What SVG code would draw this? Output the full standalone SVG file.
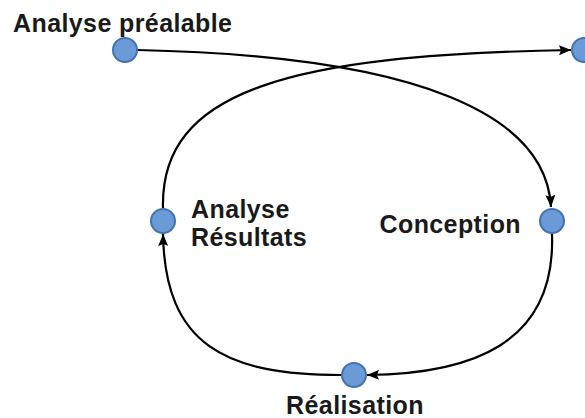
<svg xmlns="http://www.w3.org/2000/svg" width="585" height="418" viewBox="0 0 585 418">
<style>
.n{fill:#6b9bd6;stroke:#4472b0;stroke-width:2}
.t{font-family:"Liberation Sans",Arial,sans-serif;font-weight:bold;font-size:25px;letter-spacing:0.4px;fill:#1a1a1a}
.c{fill:none;stroke:#000;stroke-width:2.2}
</style>
<defs>
<marker id="ah" viewBox="0 0 12 10" refX="12" refY="5" markerWidth="12" markerHeight="10" orient="auto" markerUnits="userSpaceOnUse">
<path d="M0,0 L12,5 L0,10 L2,5 Z" fill="#000"/>
</marker>
</defs>
<rect width="585" height="418" fill="#fff"/>
<g id="connectors">
<path class="c" d="M137,50 C 420,56 546,115 551,207" marker-end="url(#ah)"/>
<path class="c" d="M163,208 C 160,90 290,55 571,50" marker-end="url(#ah)"/>
<path class="c" d="M552,234 C 556,345 470,374 367,375" marker-end="url(#ah)"/>
<path class="c" d="M342,375 C 225,375 165,345 163,234" marker-end="url(#ah)"/>
</g>
<g id="analyse-prealable">
<circle class="n" cx="125" cy="50" r="12"/>
<text class="t" x="13" y="32">Analyse préalable</text>
</g>
<g id="cible">
<circle class="n" cx="584" cy="50" r="12"/>
</g>
<g id="conception">
<circle class="n" cx="552" cy="221" r="12"/>
<text class="t" x="521" y="233" text-anchor="end">Conception</text>
</g>
<g id="realisation">
<circle class="n" cx="354" cy="375" r="12"/>
<text class="t" x="355" y="414" text-anchor="middle">Réalisation</text>
</g>
<g id="analyse-resultats">
<circle class="n" cx="163" cy="221" r="12"/>
<text class="t" x="191" y="218">Analyse</text>
<text class="t" x="191" y="246">Résultats</text>
</g>
</svg>
